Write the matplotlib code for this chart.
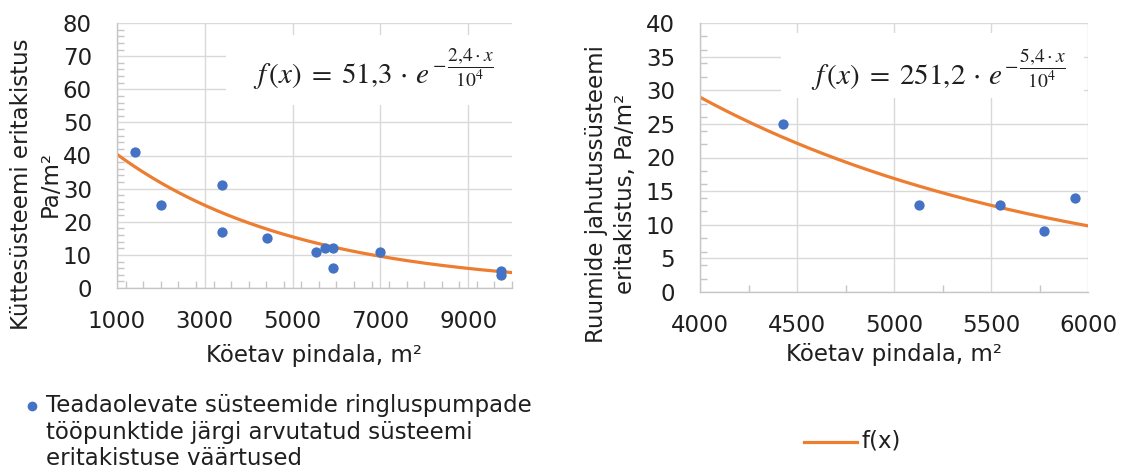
import numpy as np
import matplotlib
matplotlib.use("Agg")
import matplotlib.pyplot as plt
from matplotlib.lines import Line2D
from matplotlib.patches import Rectangle
from matplotlib.ticker import MultipleLocator

# Heating system: floor area (m²) vs specific resistance (Pa/m²)
heat_area = [1400, 2000, 3400, 3400, 4420, 5530, 5750, 5920, 5920, 7000, 9750, 9750]
heat_resist = [41, 25, 31, 17, 15, 11, 12, 12, 6, 11, 5, 4]
heat_a, heat_b = 51.3, 2.4  # f(x) = a * exp(-b*x/1e4)

# Cooling system: floor area (m²) vs specific resistance (Pa/m²)
cool_area = [4430, 5130, 5545, 5775, 5935]
cool_resist = [25, 13, 13, 9, 14]
cool_a, cool_b = 251.2, 5.4

heat_xticks = [1000, 3000, 5000, 7000, 9000]
cool_xticks = [4000, 4500, 5000, 5500, 6000]

BLUE = "#4472C4"
ORANGE = "#ED7D31"
GRID = "#D9D9D9"
SPINE = "#C6C6C6"
TXT = "#1f1f1f"

plt.rcParams["font.family"] = ["DejaVu Sans"]
plt.rcParams["mathtext.fontset"] = "stix"

W, H = 1121, 475
fig = plt.figure(figsize=(W / 100, H / 100), dpi=100)
fig.patch.set_facecolor("white")


def px_axes(x0, y0, x1, y1):
    return fig.add_axes([x0 / W, 1 - y1 / H, (x1 - x0) / W, (y1 - y0) / H])


def style(ax, xlim, ylim, xminor, ymajor, yminor, xticks):
    ax.set_xlim(*xlim)
    ax.set_ylim(*ylim)
    ax.set_xticks(xticks)
    ax.xaxis.set_minor_locator(MultipleLocator(xminor))
    ax.yaxis.set_major_locator(MultipleLocator(ymajor))
    ax.yaxis.set_minor_locator(MultipleLocator(yminor))
    ax.set_axisbelow(True)
    ax.grid(True, which="major", color=GRID, lw=1.0)
    for s in ("top", "right"):
        ax.spines[s].set_visible(False)
    for s in ("left", "bottom"):
        ax.spines[s].set_color(SPINE)
        ax.spines[s].set_linewidth(1.0)
    ax.tick_params(which="major", length=0, labelsize=16.5, labelcolor=TXT)
    ax.tick_params(axis="x", which="major", pad=16)
    ax.tick_params(axis="y", which="major", pad=18)
    ax.tick_params(which="minor", direction="in", length=5, color=SPINE, width=1.0)


def equation(ax, box, pos, a, b):
    ax.add_patch(Rectangle((box[0], box[1]), box[2] - box[0], box[3] - box[1],
                           transform=ax.transAxes, facecolor="white",
                           edgecolor="none", zorder=1.5))
    a_txt = f"{a:.1f}".replace(".", "{,}")
    b_txt = f"{b:.1f}".replace(".", "{,}")
    main = ax.text(pos[0], pos[1], rf"$f\,(x)\;=\;{a_txt}\,\cdot\,e$",
                   transform=ax.transAxes, fontsize=21, color=TXT,
                   ha="left", va="center", zorder=5)
    ax.annotate(rf"$-\,\dfrac{{{b_txt}\cdot x}}{{10^4}}$", xy=(1.0, 0.78),
                xycoords=main, xytext=(1, 0), textcoords="offset points",
                fontsize=14, color=TXT, ha="left", va="center", zorder=5)


# Left panel: heating
ax1 = px_axes(117, 23, 512, 288)
style(ax1, (1000, 10000), (0, 80), 400, 10, 2, heat_xticks)
xs = np.linspace(1000, 10000, 300)
ax1.plot(xs, heat_a * np.exp(-heat_b * xs / 1e4), color=ORANGE, lw=2.3, zorder=2)
ax1.scatter(heat_area, heat_resist, s=55, color=BLUE, zorder=3, linewidths=0)
equation(ax1, (0.276, 0.69, 1.0, 0.955), (0.345, 0.80), heat_a, heat_b)
ax1.set_xlabel("Köetav pindala, m²", fontsize=16.5, color=TXT, labelpad=8)

# Right panel: cooling
ax2 = px_axes(700, 23, 1088, 292)
style(ax2, (4000, 6000), (0, 40), 250, 5, 2, cool_xticks)
xs2 = np.linspace(4000, 6000, 300)
ax2.plot(xs2, cool_a * np.exp(-cool_b * xs2 / 1e4), color=ORANGE, lw=2.3, zorder=2)
ax2.scatter(cool_area, cool_resist, s=55, color=BLUE, zorder=3, linewidths=0)
equation(ax2, (0.209, 0.72, 0.99, 0.963), (0.285, 0.80), cool_a, cool_b)
ax2.set_xlabel("Köetav pindala, m²", fontsize=16.5, color=TXT, labelpad=4)

# Y-axis titles
fig.text(36 / W, 1 - 184 / H, "Küttesüsteemi eritakistus\nPa/m²", rotation=90,
         ha="center", va="center", multialignment="center", fontsize=16.5,
         color=TXT, linespacing=1.3)
fig.text(611 / W, 1 - 194 / H, "Ruumide jahutussüsteemi\neritakistus, Pa/m²", rotation=90,
         ha="center", va="center", multialignment="center", fontsize=16.5,
         color=TXT, linespacing=1.3)

# Legend entries
fig.add_artist(Line2D([32 / W], [1 - 406 / H], marker="o", markersize=7,
                      color=BLUE, markeredgewidth=0, linestyle="none"))
fig.text(46 / W, 1 - 394 / H,
         "Teadaolevate süsteemide ringluspumpade\ntööpunktide järgi arvutatud süsteemi\neritakistuse väärtused",
         ha="left", va="top", fontsize=16.5, color=TXT, linespacing=1.2)
fig.add_artist(Line2D([804 / W, 857 / W], [1 - 442 / H, 1 - 442 / H],
                      color=ORANGE, lw=2.3))
fig.text(862 / W, 1 - 441 / H, "f(x)", ha="left", va="center", fontsize=16.5, color=TXT)

fig.savefig("out.png", dpi=100, facecolor="white")
